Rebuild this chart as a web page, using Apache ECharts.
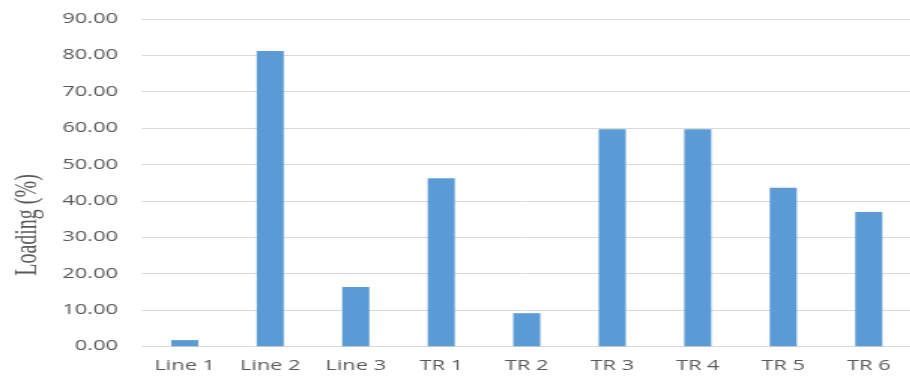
<!DOCTYPE html>
<html>
<head>
<meta charset="utf-8">
<script src="https://cdn.jsdelivr.net/npm/echarts@6/dist/echarts.min.js"></script>
<style>
  html, body { margin: 0; padding: 0; background: #ffffff; overflow: hidden; }
  /* The chart is laid out at a narrower width and widened horizontally,
     giving the broad lettering and bars of the original figure. */
  #chart {
    width: 606.67px;
    height: 378px;
    transform: scaleX(1.5);
    transform-origin: 0 0;
  }
</style>
</head>
<body>
<div id="chart"></div>
<script>
// Loading of each line and transformer
const categories = ['Line 1', 'Line 2', 'Line 3', 'TR 1', 'TR 2', 'TR 3', 'TR 4', 'TR 5', 'TR 6'];
const loading = [1.7, 81.2, 16.3, 46.2, 9.1, 59.7, 59.7, 43.6, 36.9];
const yTicks = [0, 10, 20, 30, 40, 50, 60, 70, 80, 90];
const yTitle = 'Loading (%)';

const chart = echarts.init(document.getElementById('chart'), null, {
  width: 606.67,
  height: 378
});

const labelColor = '#595959';
const gridColor = '#d9d9d9';

chart.setOption({
  animation: false,
  backgroundColor: '#ffffff',
  grid: {
    left: 94.5,
    top: 19,
    width: 519.7,
    bottom: 31.7,
    containLabel: false
  },
  xAxis: {
    type: 'category',
    data: categories,
    axisLine: { show: true, lineStyle: { color: gridColor, width: 1 } },
    axisTick: { show: false },
    axisLabel: {
      color: labelColor,
      fontFamily: 'Open Sans',
      fontSize: 14.5,
      margin: 12
    }
  },
  yAxis: {
    type: 'value',
    min: yTicks[0],
    max: yTicks[yTicks.length - 1],
    interval: yTicks[1] - yTicks[0],
    axisLine: { show: false },
    axisTick: { show: false },
    splitLine: { lineStyle: { color: gridColor, width: 1 } },
    axisLabel: {
      color: labelColor,
      fontFamily: 'Open Sans',
      fontSize: 14.5,
      margin: 16,
      formatter: v => v.toFixed(2)
    }
  },
  graphic: [{
    type: 'text',
    x: 19,
    y: 225,
    rotation: Math.PI / 2,
    style: {
      text: yTitle,
      fill: labelColor,
      font: '20px "Liberation Serif", "DejaVu Serif", serif',
      align: 'center',
      verticalAlign: 'middle'
    }
  }],
  series: [{
    type: 'bar',
    data: loading,
    barWidth: 18,
    itemStyle: { color: '#5b9bd5' }
  }]
});
</script>
</body>
</html>
